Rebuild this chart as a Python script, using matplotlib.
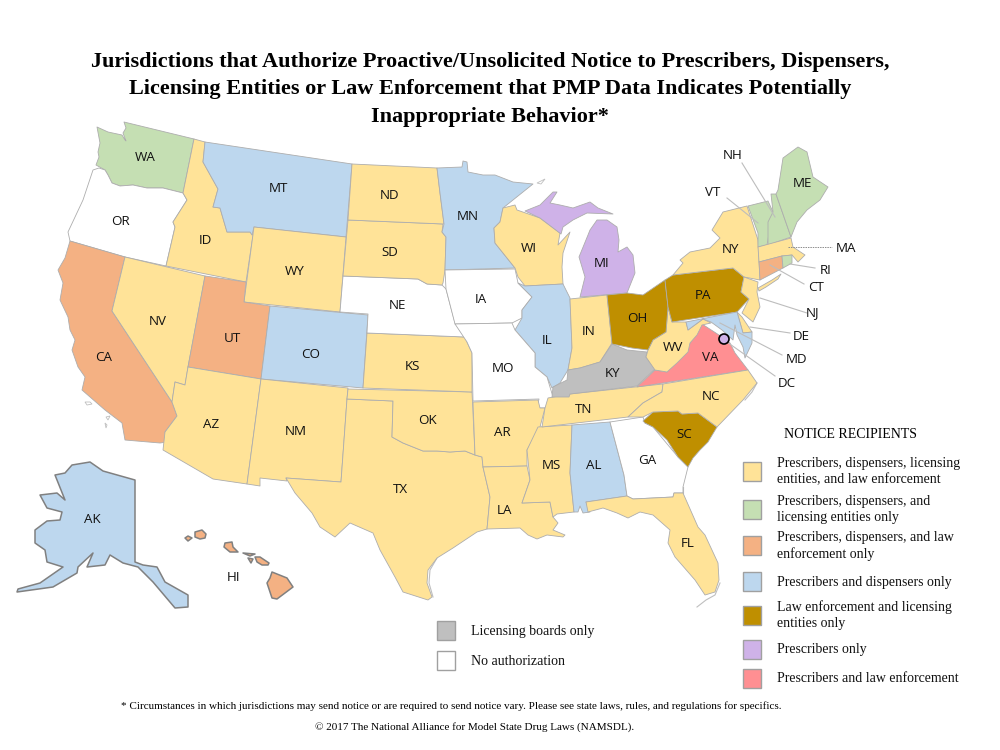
import matplotlib
matplotlib.use("Agg")
import matplotlib.pyplot as plt
from matplotlib.patches import Polygon, Rectangle, Circle

SERIF = "Liberation Serif"
SANS = "Open Sans"

TITLE_LINES = [
    "Jurisdictions that Authorize Proactive/Unsolicited Notice to Prescribers, Dispensers,",
    "Licensing Entities or Law Enforcement that PMP Data Indicates Potentially",
    "Inappropriate Behavior*",
]
FOOTNOTE = "* Circumstances in which jurisdictions may send notice or are required to send notice vary. Please see state laws, rules, and regulations for specifics."
COPYRIGHT = "\u00a9 2017 The National Alliance for Model State Drug Laws (NAMSDL)."

COLORS = {
    "all": "#FFE398", "pdl": "#C5DFB3", "pdle": "#F4B183", "pd": "#BDD7EE",
    "lel": "#BF8F00", "p": "#CFB2E8", "ple": "#FF8F92", "lb": "#BFBFBF", "none": "#FFFFFF",
}

CATEGORY = {
    "all": ["ID", "NV", "AZ", "NM", "WY", "ND", "SD", "KS", "OK", "TX", "AR", "LA", "MS", "WI", "IN",
            "TN", "FL", "NC", "WV", "NY", "NJ", "DE", "MA"],
    "pdl": ["WA", "ME", "NH", "VT", "RI"],
    "pdle": ["CA", "UT", "HI", "CT"],
    "pd": ["MT", "CO", "MN", "IL", "AL", "AK", "MD"],
    "lel": ["OH", "PA", "SC"],
    "p": ["MI"],
    "ple": ["VA"],
    "lb": ["KY"],
    "none": ["OR", "NE", "IA", "MO", "GA"],
}

OUTLINES = {
    "WA": [[(124,122),(194,139),(183,193),(163,188),(147,188),(133,185),(120,186),(112,183),(108,175),(105,170),(96,165),(99,157),(98,152),(100,143),(97,127),(108,132),(122,135),(125,140),(126,141),(123,133),(126,128)]],
    "OR": [[(99,168),(105,170),(108,175),(112,183),(120,186),(133,185),(147,188),(163,188),(183,193),(187,200),(173,222),(175,227),(166,266),(125,257),(70,241),(68,232),(83,200),(93,170)]],
    "CA": [[(70,241),(125,257),(112,311),(172,402),(177,416),(165,432),(167,442),(160,443),(125,440),(122,423),(105,410),(82,390),(85,377),(78,367),(72,350),(75,340),(70,330),(68,317),(60,300),(63,283),(58,270),(65,258)]],
    "NV": [[(125,257),(205,276),(188,367),(185,385),(175,382),(172,402),(112,311)]],
    "ID": [[(194,139),(205,142),(203,162),(218,189),(213,207),(220,208),(227,232),(250,232),(253,235),(246,282),(166,266),(175,227),(173,222),(187,200),(183,193)]],
    "MT": [[(205,142),(352,164),(346,237),(254,227),(252,235),(250,232),(227,232),(220,208),(213,207),(218,189),(203,162)]],
    "WY": [[(254,227),(346,237),(340,312),(244,302)]],
    "UT": [[(205,276),(246,282),(244,302),(270,306),(261,379),(188,367)]],
    "CO": [[(270,306),(368,315),(363,388),(261,379)]],
    "AZ": [[(188,367),(261,379),(247,484),(213,479),(163,450),(165,432),(177,416),(172,402),(175,382),(185,385)]],
    "NM": [[(261,379),(348,388),(347,399),(341,482),(286,478),(287,481),(260,478),(260,486),(247,484)]],
    "TX": [[(347,399),(393,401),(392,437),(403,443),(423,451),(437,451),(450,452),(465,451),(475,455),(482,457),(483,467),(490,497),(487,529),(477,532),(453,548),(437,558),(428,570),(427,583),(432,597),(428,600),(403,592),(395,577),(380,550),(373,533),(350,523),(335,537),(320,527),(312,513),(295,493),(286,478),(341,482)]],
    "OK": [[(348,389),(472,392),(475,455),(465,451),(450,452),(437,451),(423,451),(403,443),(392,437),(393,401),(347,399)]],
    "KS": [[(367,333),(465,337),(467,342),(472,353),(472,392),(363,388)]],
    "NE": [[(343,276),(418,279),(427,284),(442,285),(446,289),(455,323),(465,337),(367,333),(368,314),(340,312)]],
    "SD": [[(348,220),(443,224),(442,232),(446,237),(445,270),(443,283),(442,285),(427,284),(418,279),(343,276)]],
    "ND": [[(352,164),(437,168),(440,193),(444,224),(348,220)]],
    "MN": [[(437,168),(462,167),(463,161),(467,162),(468,172),(483,175),(495,175),(513,182),(533,184),(503,208),(500,222),(494,228),(495,243),(515,268),(445,270),(446,237),(442,232),(444,224),(440,193)]],
    "WI": [[(503,208),(515,205),(517,210),(540,218),(560,233),(558,245),(570,232),(563,253),(562,267),(563,284),(525,286),(518,277),(515,268),(495,243),(494,228),(500,222)]],
    "MI": [[(525,211),(540,205),(553,192),(557,192),(550,203),(560,205),(573,208),(590,202),(598,208),(608,212),(613,214),(587,213),(573,220),(563,227),(561,234),(540,218)],
           [(597,220),(607,220),(617,227),(619,240),(618,252),(627,247),(633,255),(635,273),(627,293),(580,297),(585,277),(579,257),(588,235),(590,230)]],
    "IA": [[(445,270),(515,269),(518,283),(532,297),(522,310),(522,318),(512,323),(455,324),(446,289)]],
    "IL": [[(525,286),(563,284),(570,298),(572,348),(568,370),(560,383),(552,388),(547,377),(535,367),(535,353),(515,330),(522,318),(522,310),(532,297),(518,283)]],
    "IN": [[(570,299),(607,295),(612,343),(600,362),(580,368),(568,370),(572,348)]],
    "MO": [[(455,324),(512,323),(515,330),(535,353),(535,367),(547,377),(553,397),(545,408),(537,408),(539,399),(473,401),(472,353),(467,342)]],
    "AR": [[(473,402),(538,400),(540,408),(545,408),(540,427),(527,450),(527,466),(483,467),(482,457),(475,455)]],
    "LA": [[(483,467),(527,466),(530,480),(522,503),(550,502),(553,517),(558,523),(553,530),(565,535),(563,537),(547,535),(537,539),(528,535),(520,528),(487,529),(490,497)]],
    "MS": [[(538,427),(572,425),(570,473),(574,512),(557,514),(553,517),(550,502),(522,503),(530,480),(527,450)]],
    "AL": [[(572,425),(610,422),(624,475),(627,496),(586,502),(590,512),(583,513),(580,506),(578,512),(574,512),(570,473)]],
    "GA": [[(610,422),(643,417),(645,423),(653,427),(678,457),(688,467),(683,487),(683,493),(674,493),(673,497),(633,499),(627,496),(624,475)]],
    "SC": [[(645,423),(643,421),(653,412),(678,411),(682,414),(698,413),(717,427),(708,442),(700,450),(693,458),(688,467),(678,457),(667,440),(653,427)]],
    "FL": [[(586,502),(627,496),(633,499),(673,497),(674,493),(683,493),(698,527),(705,535),(718,563),(719,580),(715,592),(705,595),(695,580),(675,557),(668,543),(670,530),(653,515),(640,512),(628,518),(617,513),(603,508),(588,512)]],
    "TN": [[(548,398),(570,394),(663,384),(662,392),(643,403),(628,417),(542,427),(545,408)]],
    "KY": [[(552,397),(553,387),(567,380),(568,370),(580,368),(600,362),(612,344),(627,350),(647,352),(646,357),(655,369),(637,386),(570,394),(569,397)]],
    "VA": [[(637,387),(655,370),(667,372),(690,343),(702,324),(722,337),(730,343),(735,353),(748,370)]],
    "WV": [[(646,357),(648,350),(653,340),(666,332),(668,307),(672,322),(686,322),(688,330),(703,319),(711,323),(702,325),(697,335),(690,343),(688,352),(677,363),(667,372),(655,370)]],
    "OH": [[(607,295),(627,293),(635,294),(643,295),(665,280),(668,307),(666,332),(653,340),(648,350),(632,348),(612,344)]],
    "PA": [[(665,280),(673,275),(733,268),(744,277),(741,292),(749,299),(737,312),(672,322),(668,307)]],
    "NY": [[(673,275),(683,263),(680,260),(690,252),(710,248),(720,238),(712,230),(723,212),(747,206),(758,240),(760,280),(744,277),(733,268)],
           [(758,288),(772,280),(781,274),(778,279),(766,287),(759,291)]],
    "VT": [[(748,206),(768,201),(773,212),(767,245),(758,247),(758,233)]],
    "NH": [[(771,194),(776,194),(791,237),(768,245),(768,222),(773,212)]],
    "ME": [[(776,194),(778,190),(783,158),(798,147),(807,152),(813,177),(828,187),(820,200),(807,210),(797,222),(791,237)]],
    "MA": [[(758,247),(791,238),(793,247),(805,255),(798,262),(792,255),(782,256),(759,262)]],
    "CT": [[(759,262),(782,256),(783,268),(760,280)]],
    "RI": [[(782,256),(792,255),(792,263),(783,268)]],
    "NJ": [[(744,277),(758,282),(757,292),(760,307),(753,322),(742,313),(749,299),(741,292)]],
    "DE": [[(737,312),(742,317),(752,332),(743,333)]],
    "MD": [[(686,322),(737,312),(743,333),(752,332),(752,343),(745,358),(743,347),(737,335),(735,325),(733,340),(722,330),(711,322),(703,319),(688,330)]],
    "NC": [[(663,384),(748,370),(757,383),(743,400),(717,427),(698,413),(682,414),(678,411),(653,412),(643,417),(628,417),(643,403),(662,392)]],
    "AK": [[(90,462),(103,471),(135,480),(135,562),(143,565),(157,567),(165,582),(188,595),(188,607),(175,608),(153,582),(138,567),(123,563),(110,555),(105,565),(87,567),(93,553),(78,567),(77,573),(53,587),(17,592),(18,589),(40,583),(63,567),(47,562),(45,550),(35,543),(35,530),(47,521),(60,520),(62,512),(47,508),(40,495),(57,493),(65,500),(55,475),(65,473),(72,465)]],
    "HI": [[(272,572),(287,578),(293,587),(285,593),(277,599),(272,598),(267,583),(270,578)],
           [(255,557),(260,557),(269,563),(268,565),(262,565),(257,562)],
           [(243,553),(255,554),(250,556)],
           [(248,558),(253,559),(251,563)],
           [(225,543),(232,542),(233,547),(238,552),(230,552),(224,547)],
           [(195,532),(202,530),(206,534),(205,538),(200,539),(195,537)],
           [(185,538),(188,536),(192,538),(188,541)]],
}

LABELS = {
    "WA": (145,157), "OR": (120,221), "CA": (104,357), "NV": (158,321), "ID": (205,240), "MT": (278,188),
    "WY": (295,271), "UT": (232,338), "CO": (311,354), "AZ": (211,424), "NM": (296,431), "ND": (390,195),
    "SD": (390,252), "NE": (397,305), "KS": (412,366), "OK": (427,420), "TX": (400,489), "MN": (468,216),
    "IA": (481,299), "MO": (503,368), "AR": (502,432), "LA": (504,510), "WI": (529,248), "IL": (547,340),
    "MS": (551,465), "AL": (594,465), "TN": (584,409), "KY": (612,373), "IN": (589,331), "OH": (637,318),
    "MI": (602,263), "GA": (647,460), "FL": (688,543), "SC": (684,434), "NC": (711,396), "VA": (710,357),
    "WV": (673,347), "PA": (703,295), "NY": (730,249), "ME": (802,183), "AK": (92,519), "HI": (234,577),
    "NH": (733,155), "VT": (713,192), "MA": (846,248), "RI": (826,270), "CT": (816,287), "NJ": (813,312),
    "DE": (801,336), "MD": (797,359), "DC": (787,383),
}

LEADERS = [
    ((742,163),(775,217)), ((727,198),(758,223)), ((790,264),(815,268)), ((770,265),(804,284)),
    ((760,298),(807,313)), ((750,327),(790,333)), ((720,323),(782,355)), ((727,342),(775,376)),
]
COAST = [
    [(437,558),(430,570),(429,583),(433,597)],
    [(720,583),(715,595),(706,600),(697,607)],
    [(757,383),(752,392),(745,400)],
    [(683,487),(683,493)],
]
ISLANDS = [
    [(85,402),(90,402),(92,404),(87,405)],
    [(106,417),(110,416),(108,420)],
    [(105,423),(107,425),(106,428)],
    [(537,183),(545,179),(541,184)],
]

LEGEND_RIGHT = [
    ("all", ["Prescribers, dispensers, licensing", "entities, and law enforcement"]),
    ("pdl", ["Prescribers, dispensers, and", "licensing entities only"]),
    ("pdle", ["Prescribers, dispensers, and law", "enforcement only"]),
    ("pd", ["Prescribers and dispensers only"]),
    ("lel", ["Law enforcement and licensing", "entities only"]),
    ("p", ["Prescribers only"]),
    ("ple", ["Prescribers and law enforcement"]),
]
LEGEND_RIGHT_Y = [471.5, 509.5, 545.5, 581.5, 615, 649, 678]
LEGEND_LEFT = [("lb", "Licensing boards only"), ("none", "No authorization")]
LEGEND_LEFT_Y = [630, 660]

fig = plt.figure(figsize=(10, 7.5), dpi=100)
ax = fig.add_axes([0, 0, 1, 1])
ax.set_xlim(0, 1000)
ax.set_ylim(750, 0)
ax.axis("off")

state_color = {s: COLORS[c] for c, members in CATEGORY.items() for s in members}
for state, polys in OUTLINES.items():
    dark = state in ("AK", "HI")
    for pts in polys:
        ax.add_patch(Polygon(pts, closed=True, facecolor=state_color[state],
                             edgecolor="#808080" if dark else "#ADADAD",
                             linewidth=1.1 if dark else 0.6, joinstyle="round", zorder=2))

for pts in COAST:
    ax.plot(*zip(*pts), color="#BFBFBF", lw=0.8, zorder=1)
for pts in ISLANDS:
    ax.add_patch(Polygon(pts, closed=True, facecolor="white", edgecolor="#BFBFBF", lw=0.6, zorder=1))

for a, b in LEADERS:
    ax.plot([a[0], b[0]], [a[1], b[1]], color="#BDBDBD", lw=0.8, zorder=3)
ax.plot([788, 832], [247, 247], color="#8C8C8C", lw=0.7, ls=(0, (1.5, 1)), zorder=3)
ax.add_patch(Circle((724, 339), 5, facecolor=COLORS["p"], edgecolor="black", lw=1.2, zorder=5))

for code, (x, y) in LABELS.items():
    ax.text(x, y + 0.5, code, ha="center", va="center", family=SANS, fontsize=9.6, color="#111111", zorder=6)

for y, line in zip([62, 89, 117], TITLE_LINES):
    ax.text(490, y, line, ha="center", va="center", family=SERIF, fontweight="bold", fontsize=16.05, color="black")

ax.text(851, 434, "NOTICE RECIPIENTS", ha="center", va="center", family=SERIF, fontsize=10)


def swatch(x, yc, key):
    ax.add_patch(Rectangle((x, yc - 9.5), 18, 19, facecolor=COLORS[key], edgecolor="#A0A0A0", lw=1.0, zorder=3))


for (key, lines), yc in zip(LEGEND_RIGHT, LEGEND_RIGHT_Y):
    swatch(743, yc, key)
    ys = [yc + 1] if len(lines) == 1 else [yc - 7.5, yc + 8.5]
    for y, line in zip(ys, lines):
        ax.text(777, y, line, ha="left", va="center", family=SERIF, fontsize=10, color="#111111")
for (key, label), yc in zip(LEGEND_LEFT, LEGEND_LEFT_Y):
    swatch(437, yc, key)
    ax.text(471, yc + 1.5, label, ha="left", va="center", family=SERIF, fontsize=10, color="#111111")

ax.text(451, 706, FOOTNOTE, ha="center", va="center", family=SERIF, fontsize=8)
ax.text(474.5, 727, COPYRIGHT, ha="center", va="center", family=SERIF, fontsize=8)

fig.savefig("out.png", dpi=100, facecolor="white")
